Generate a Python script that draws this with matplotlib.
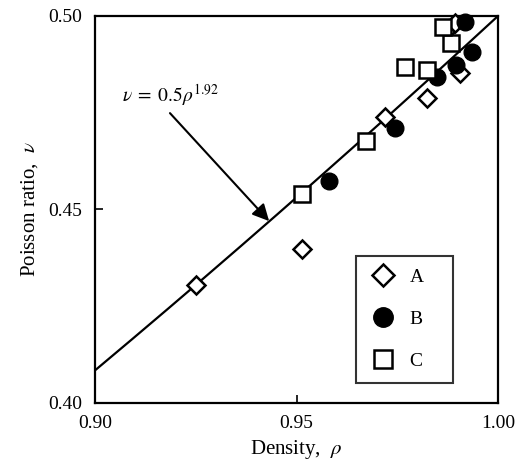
import numpy as np
import matplotlib
matplotlib.use('Agg')
import matplotlib.pyplot as plt
from matplotlib.lines import Line2D

plt.rcParams['font.family'] = ['Liberation Serif', 'DejaVu Serif']
plt.rcParams['mathtext.fontset'] = 'stix'

# data
rho_a = [0.925, 0.9514, 0.972, 0.9824, 0.9906, 0.9876, 0.9893]
nu_a = [0.4305, 0.4398, 0.4739, 0.4788, 0.4853, 0.4966, 0.4982]

rho_b = [0.9581, 0.9744, 0.9849, 0.9896, 0.9935, 0.9918]
nu_b = [0.4574, 0.4711, 0.4842, 0.4873, 0.4907, 0.4984]

rho_c = [0.9514, 0.9672, 0.9769, 0.9824, 0.9883, 0.9864]
nu_c = [0.4540, 0.4677, 0.4868, 0.4860, 0.4930, 0.4972]

fit_coef = 0.5
fit_exp = 1.92
x_ticks = [0.90, 0.95, 1.00]
y_ticks = [0.40, 0.45, 0.50]

fig = plt.figure(figsize=(5.32, 4.66), dpi=100)
ax = fig.add_axes([0.1786, 0.1352, 0.7575, 0.8305])

rr = np.linspace(0.90, 1.00, 200)
ax.plot(rr, fit_coef * rr ** fit_exp, color='k', lw=1.6, zorder=2)

ax.plot(rho_a, nu_a, ls='none', marker='D', ms=9, mfc='white', mec='k', mew=1.8, clip_on=False, zorder=3)
ax.plot(rho_b, nu_b, ls='none', marker='o', ms=12, mfc='k', mec='k', clip_on=False, zorder=3)
ax.plot(rho_c, nu_c, ls='none', marker='s', ms=12, mfc='white', mec='k', mew=1.8, clip_on=False, zorder=3)

ax.annotate('', xy=(0.9432, 0.4470), xytext=(0.9186, 0.4749),
            arrowprops=dict(arrowstyle='-|>', color='k', lw=1.5, mutation_scale=25, shrinkA=0, shrinkB=0))
ax.text(0.9067, 0.4778, r'$\nu\;=\;0.5\rho^{1.92}$', fontsize=14, va='baseline', ha='left')

ax.set_xlim(0.90, 1.00)
ax.set_ylim(0.40, 0.50)
ax.set_xticks(x_ticks)
ax.set_yticks(y_ticks)
ax.set_xticklabels(['%.2f' % v for v in x_ticks])
ax.set_yticklabels(['%.2f' % v for v in y_ticks])
ax.tick_params(direction='in', length=6, width=1.2, labelsize=14, pad=9)
for s in ax.spines.values():
    s.set_linewidth(1.6)

ax.set_xlabel(r'Density,  $\rho$', fontsize=15, labelpad=4)
ax.set_ylabel(r'Poisson ratio,  $\nu$', fontsize=15, labelpad=6)

handles = [
    Line2D([], [], ls='none', marker='D', ms=11, mfc='white', mec='k', mew=1.8),
    Line2D([], [], ls='none', marker='o', ms=14, mfc='k', mec='k'),
    Line2D([], [], ls='none', marker='s', ms=13, mfc='white', mec='k', mew=1.8),
]
leg = ax.legend(handles, ['A', 'B', 'C'], loc='upper left',
                bbox_to_anchor=(0.6476, 0.049, 0.2407, 0.3308), mode='expand',
                fontsize=14, frameon=True, fancybox=False, edgecolor='k',
                labelspacing=1.25, handletextpad=0.6, borderpad=0.65, handlelength=1.5,
                borderaxespad=0)
leg.get_frame().set_linewidth(1.5)

fig.savefig('out.png', dpi=100)
